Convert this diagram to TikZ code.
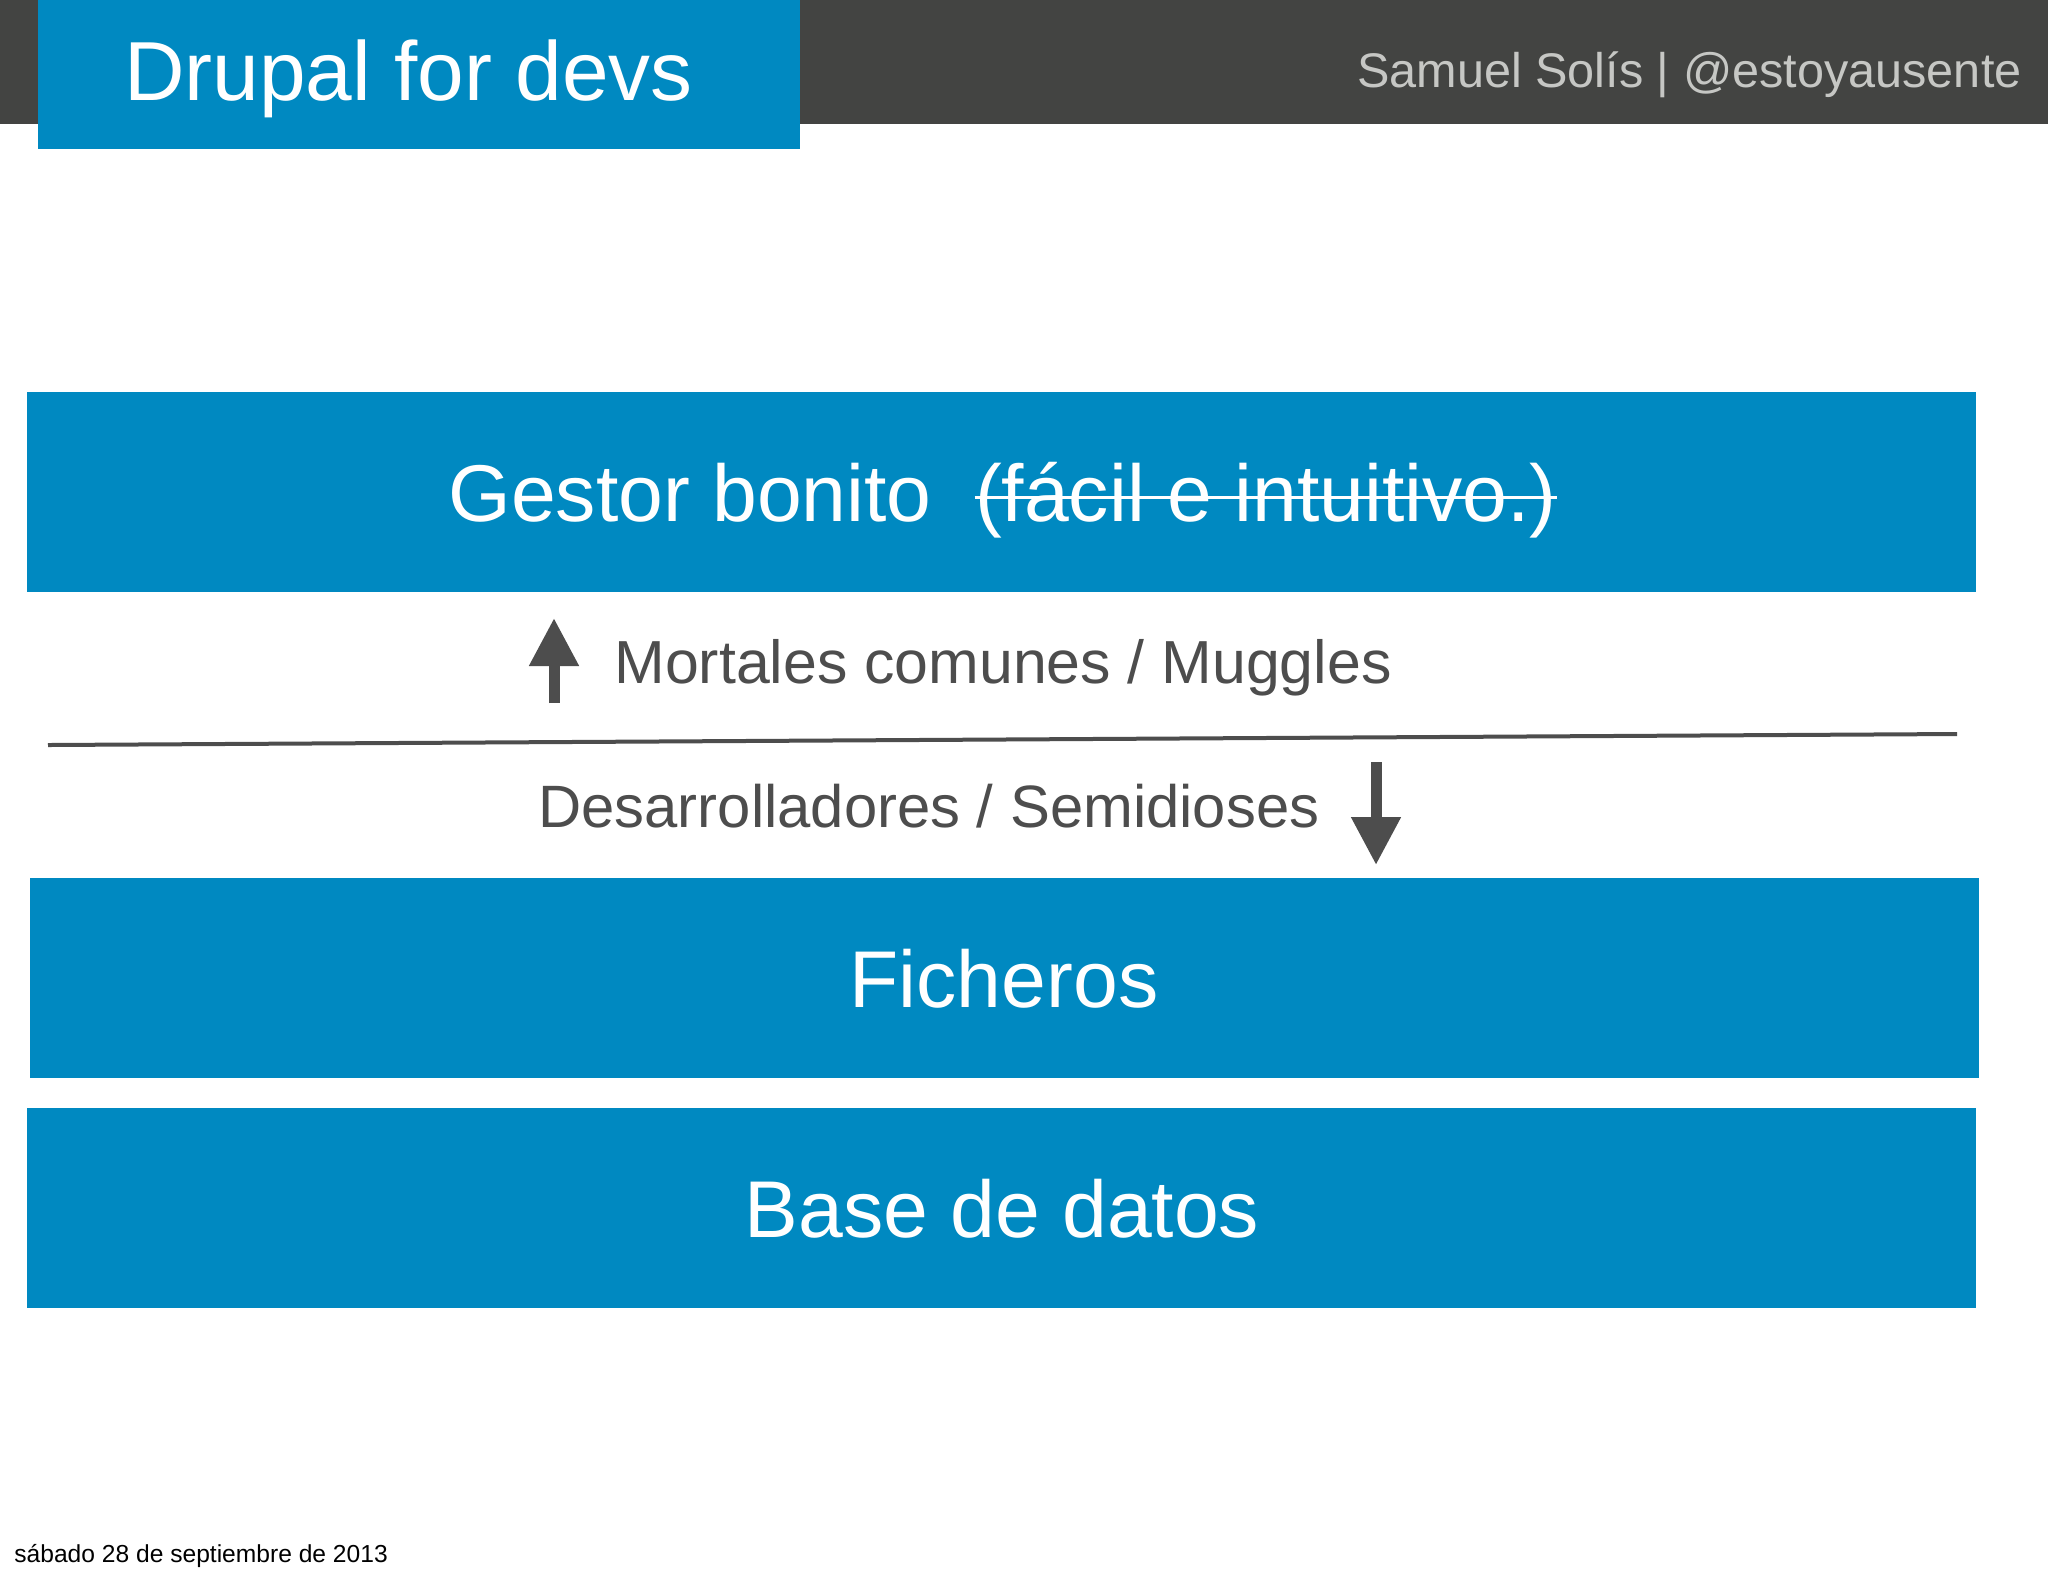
\documentclass[tikz,border=0pt]{standalone}
\usepackage{fontspec}
\setmainfont{Liberation Sans}
\usetikzlibrary{arrows.meta}
\definecolor{drblue}{HTML}{0089C1}
\definecolor{barbg}{HTML}{434442}
\definecolor{txtgray}{HTML}{4D4D4D}
\definecolor{hdrtxt}{HTML}{C6C7C4}
\tikzset{
  layerbox/.style={fill=drblue, draw=none, minimum width=974.5pt, minimum height=100pt, inner sep=0pt},
  boxtext/.style={text=white, inner sep=0pt, font=\fontsize{40.25pt}{48pt}\selectfont},
  labeltext/.style={text=txtgray, inner sep=0pt, font=\fontsize{30.4pt}{36pt}\selectfont},
  bigarrow/.style={draw=txtgray, line width=5.5pt, -{Triangle[length=24pt, width=23.5pt]}}
}
\begin{document}
\begin{tikzpicture}[x=0.5pt, y=-0.5pt]
\useasboundingbox (0,0) rectangle (2048,1576);
\fill[white] (0,0) rectangle (2048,1576);
% header
\node[fill=barbg, minimum width=1024pt, minimum height=62pt, inner sep=0pt] (bar) at (1024,62) {};
\node[fill=drblue, minimum width=381pt, minimum height=74.5pt, inner sep=0pt] (titlebox) at (419,74.5) {};
\node[anchor=base west, inner sep=0pt, text=white, font=\fontsize{41.9pt}{50pt}\selectfont] (title) at (124,100) {Drupal for devs};
\node[anchor=base east, inner sep=0pt, text=hdrtxt, font=\fontsize{24.3pt}{29pt}\selectfont] (author) at (2022,87) {Samuel Solís | @estoyausente};
% layers
\node[layerbox] (gestor) at (1001.5,492) {};
\node[boxtext, anchor=base west] (g1) at (448,521) {Gestor bonito};
\node[boxtext, anchor=base east] (g2) at (1557,521) {(fácil e intuitivo.)};
\draw[white, line width=1.5pt] (g2.west |- 0,497) coordinate (s1) -- (g2.east |- 0,497) coordinate (s2);
\node[layerbox] (ficheros) at (1004.5,978) {};
\node[boxtext, anchor=base] (ftext) at (1004,1007) {Ficheros};
\node[layerbox] (bd) at (1001.5,1207.5) {};
\node[boxtext, anchor=base] (bdtext) at (1002,1237) {Base de datos};
% labels
\node[labeltext, anchor=base west] (mortales) at (614,683) {Mortales comunes / Muggles};
\node[labeltext, anchor=base west, font=\fontsize{29.9pt}{36pt}\selectfont] (desarr) at (538,827) {Desarrolladores / Semidioses};
% divider
\coordinate (l1) at (48,745);
\coordinate (l2) at (1957,734);
\draw[txtgray, line width=2pt] (l1) -- (l2);
% arrows
\coordinate (upS) at (554,703);
\coordinate (upE) at (554,618);
\draw[bigarrow] (upS) -- (upE);
\coordinate (dnS) at (1376,762);
\coordinate (dnE) at (1376,865);
\draw[bigarrow] (dnS) -- (dnE);
% footer
\node[anchor=base west, inner sep=0pt, text=black, font=\fontsize{12.3pt}{15pt}\selectfont] (date) at (14,1562) {sábado 28 de septiembre de 2013};
\end{tikzpicture}
\end{document}
